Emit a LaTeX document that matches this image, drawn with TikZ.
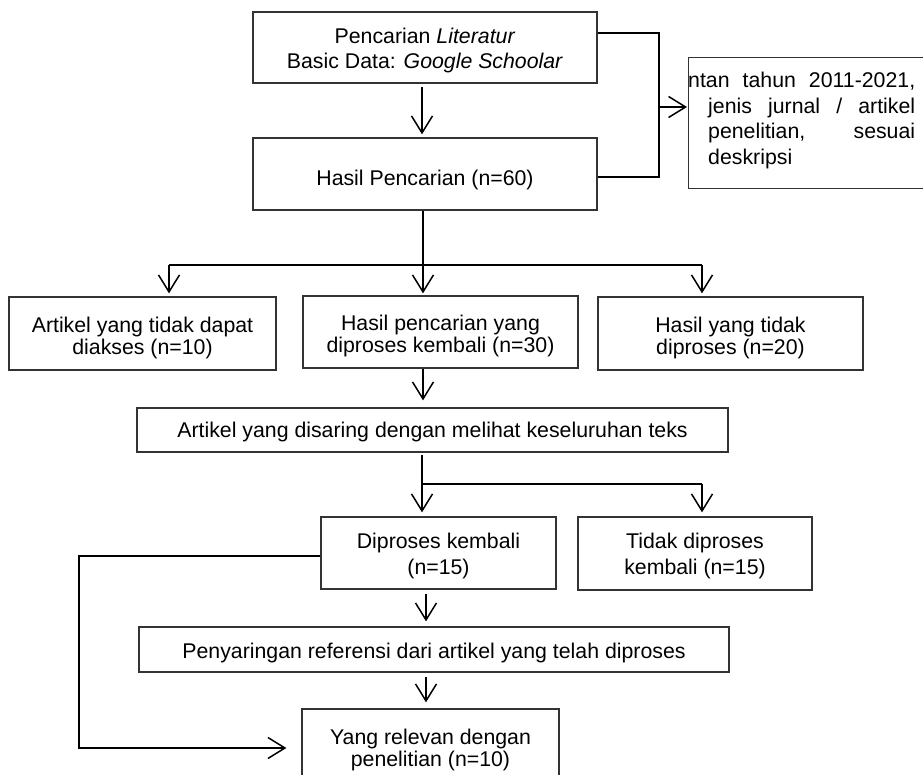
\documentclass[tikz,border=0pt]{standalone}
\usepackage{fontspec}
\setmainfont{Liberation Sans}
\usetikzlibrary{arrows.meta}
\newcommand\fsz{\fontsize{21.3}{24}\selectfont}
\newcommand\dn[1]{\rule{0pt}{#1pt}}
\begin{document}
\begin{tikzpicture}[x=1pt,y=-1pt,
  box/.style={draw=black!80, line width=1.3pt, inner sep=0pt, align=center, font=\fsz},
  conn/.style={line width=1.8pt, line join=miter},
  arr/.style={conn, -{Straight Barb[length=17pt,width=21pt,line width=1.5pt]}}]
\useasboundingbox (0,0) rectangle (923,775);
% boxes
\node[box, minimum width=344, minimum height=71, font=\fontsize{21.3}{25}\selectfont] (b1) at (425,47.5)
  {\dn{20.5}Pencarian \textit{Literatur}\\Basic Data: \textit{Google Schoolar}};
\node[box, minimum width=344, minimum height=72] (b2) at (425,174)
  {\raisebox{-6pt}[\height][\depth]{Hasil Pencarian (n=60)}};
\node[box, minimum width=238, minimum height=131, anchor=north west] (b3) at (688,57) {};
\node[anchor=north west, inner sep=0pt, align=left, font=\fontsize{21.3}{25.5}\selectfont] (b3t) at (708,72)
  {\hspace*{-20pt}\makebox[227pt][s]{ntan tahun 2011-2021,}\\
   \makebox[207pt][s]{jenis jurnal / artikel}\\
   \makebox[207pt][s]{penelitian, sesuai}\\
   deskripsi};
\node[box, minimum width=267, minimum height=73, font=\fontsize{21.3}{22.5}\selectfont] (bA) at (142.5,333.5)
  {\dn{24}Artikel yang tidak dapat\\diakses (n=10)};
\node[box, minimum width=275, minimum height=72, font=\fontsize{21.3}{22.5}\selectfont] (bB) at (440.5,332)
  {\dn{23}Hasil pencarian yang\\diproses kembali (n=30)};
\node[box, minimum width=265, minimum height=73, font=\fontsize{21.3}{22.5}\selectfont] (bC) at (730.5,333.5)
  {\dn{24}Hasil yang tidak\\diproses (n=20)};
\node[box, minimum width=591, minimum height=44] (bD) at (432.5,430)
  {\raisebox{-2pt}[\height][\depth]{Artikel yang disaring dengan melihat keseluruhan teks}};
\node[box, minimum width=235, minimum height=72, font=\fontsize{21.3}{26}\selectfont] (bE) at (438.5,553)
  {\dn{20.5}Diproses kembali\\(n=15)};
\node[box, minimum width=234, minimum height=73, font=\fontsize{21.3}{26}\selectfont] (bF) at (695,553.5)
  {\dn{20.5}Tidak diproses\\kembali (n=15)};
\node[box, minimum width=590, minimum height=45] (bG) at (434,649.5)
  {\raisebox{-3pt}[\height][\depth]{Penyaringan referensi dari artikel yang telah diproses}};
\node[box, minimum width=257, minimum height=72, font=\fontsize{21.3}{22}\selectfont] (bH) at (430.5,745)
  {\dn{25.5}Yang relevan dengan\\penelitian (n=10)};
% junction coordinates
\coordinate (tA) at (422,0);
\coordinate (r1) at (659,33);
\coordinate (r2) at (659,177);
\coordinate (r3) at (659,107);
\coordinate (jL) at (169,265);
\coordinate (jM) at (423,265);
\coordinate (jR) at (702,265);
\coordinate (kM) at (422,484);
\coordinate (kR) at (702,484);
\coordinate (mX) at (426,0);
\coordinate (q1) at (79,556);
\coordinate (q2) at (79,748);
% connectors
\draw[arr, shorten <=3pt, shorten >=3pt] (b1.south -| tA) -- (b2.north -| tA);
\draw[conn] (b1.east |- r1) -- (r1) -- (r2) -- (b2.east |- r2);
\draw[arr, shorten >=1pt] (r3) -- (b3.west |- r3);
\draw[conn] (b2.south -| jM) -- (jM);
\draw[conn] (jL) -- (jR);
\draw[arr, shorten >=3pt] (jL) -- (bA.north -| jL);
\draw[arr, shorten >=2pt] (jM) -- (bB.north -| jM);
\draw[arr, shorten >=3pt] (jR) -- (bC.north -| jR);
\draw[arr, shorten >=7pt] (bB.south -| jM) -- (bD.north -| jM);
\draw[conn, shorten <=2pt] (bD.south -| kM) -- (kM) -- (kR);
\draw[arr, shorten >=4pt] (kM) -- (bE.north -| kM);
\draw[arr, shorten >=4pt] (kR) -- (bF.north -| kR);
\draw[arr, shorten <=4pt, shorten >=5pt] (bE.south -| mX) -- (bG.north -| mX);
\draw[arr, shorten <=4pt, shorten >=6pt] (bG.south -| mX) -- (bH.north -| mX);
\draw[arr, shorten >=15pt] (bE.west |- q1) -- (q1) -- (q2) -- (bH.west |- q2);
\end{tikzpicture}
\end{document}
